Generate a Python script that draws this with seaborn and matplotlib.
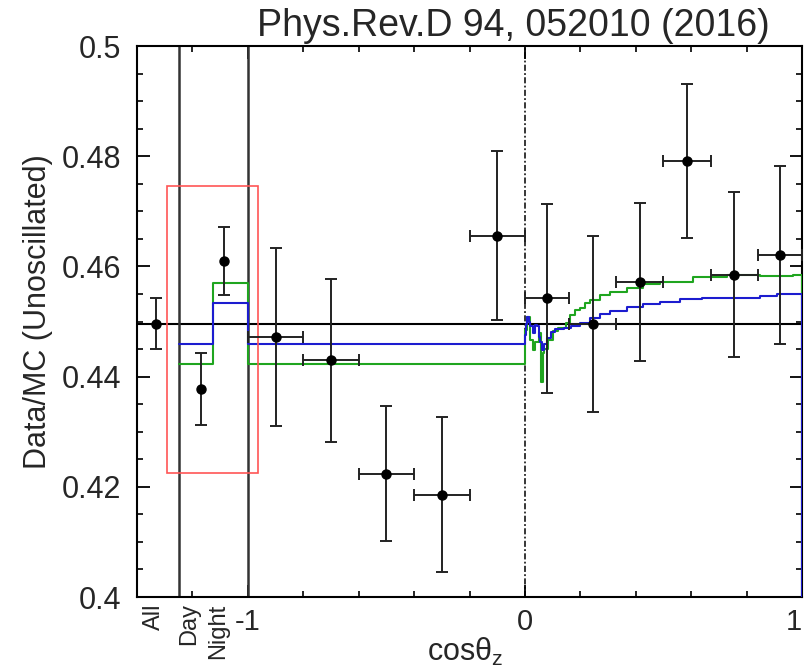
import numpy as np
import matplotlib
matplotlib.use("Agg")
import matplotlib.pyplot as plt
import seaborn as sns
from matplotlib.patches import Rectangle
from matplotlib.ticker import FixedLocator, FixedFormatter

# ---------------- data ----------------
all_x = [-1.33]
all_y = [0.4496]
all_err = [0.0046]

dn_x = [-1.17, -1.085]          # Day, Night
dn_y = [0.4377, 0.4610]
dn_err = [0.0065, 0.0062]

bin_edges = [-1.0, -0.8, -0.6, -0.4, -0.2, 0.0, 0.16, 0.33, 0.50, 0.67, 0.84, 1.0]
zen_y = [0.4472, 0.4430, 0.4224, 0.4186, 0.4656,
         0.4542, 0.4496, 0.4572, 0.4791, 0.4585, 0.4621]
zen_err = [0.0161, 0.0148, 0.0123, 0.0141, 0.0153,
           0.0171, 0.0160, 0.0144, 0.0140, 0.0150, 0.0161]

blue_x = [-1.25, -1.125, -1.0, 0.0, 0.004, 0.008, 0.016, 0.020, 0.030, 0.036, 0.045,
          0.050, 0.056, 0.062, 0.068, 0.080, 0.094, 0.110, 0.140, 0.165, 0.199, 0.235,
          0.271, 0.307, 0.367, 0.427, 0.487, 0.560, 0.640, 0.760, 0.848, 0.908, 1.0]
blue_y = [0.4460, 0.4534, 0.4459, 0.4475, 0.4495, 0.4508, 0.4500, 0.4491, 0.4479, 0.4494, 0.4491,
          0.4472, 0.4463, 0.4448, 0.4460, 0.4470, 0.4481, 0.4486, 0.4489, 0.4492, 0.4497, 0.4506,
          0.4514, 0.4520, 0.4527, 0.4532, 0.4536, 0.4540, 0.4542, 0.4543, 0.4546, 0.4550, 0.39]

green_x = [-1.25, -1.125, -1.0, 0.0, 0.006, 0.018, 0.030, 0.036, 0.052, 0.057, 0.064,
           0.068, 0.084, 0.100, 0.120, 0.150, 0.162, 0.180, 0.199, 0.217, 0.235, 0.271,
           0.307, 0.367, 0.427, 0.487, 0.607, 0.728, 0.848, 0.968, 1.0]
green_y = [0.4423, 0.4570, 0.4423, 0.4485, 0.4509, 0.4466, 0.4448, 0.4463, 0.4479, 0.4391, 0.4443,
           0.4450, 0.4466, 0.4482, 0.4488, 0.4497, 0.4512, 0.4521, 0.4524, 0.4533, 0.4539, 0.4548,
           0.4554, 0.4560, 0.4569, 0.4572, 0.4580, 0.4584, 0.4583, 0.4584, 0.39]

ytick_vals = [0.40, 0.42, 0.44, 0.46, 0.48, 0.50]
ytick_labels = ["0.4", "0.42", "0.44", "0.46", "0.48", "0.5"]
xtick_vals = [-1.0, 0.0, 1.0]
xtick_labels = ["-1", "0", "1"]
group_labels = ["All", "Day", "Night"]
group_label_x = [-1.3375, -1.213, -1.1065]
title_text = "Phys.Rev.D 94, 052010 (2016)"

# ---------------- style ----------------
sns.set_theme(style="ticks")
plt.rcParams["font.family"] = ["Liberation Sans", "DejaVu Sans"]
plt.rcParams["axes.unicode_minus"] = False

fig = plt.figure(figsize=(8.05, 6.69), dpi=100)
ax = fig.add_axes([0.1702, 0.1076, 0.8261, 0.8236])

edges = np.array(bin_edges)
zen_x = (edges[:-1] + edges[1:]) / 2
zen_xerr = (edges[1:] - edges[:-1]) / 2

# reference lines
ax.axhline(all_y[0], color="black", lw=1.5, zorder=2)
ax.axvline(-1.25, color="#333333", lw=1.8, zorder=2)
ax.axvline(-1.0, color="#333333", lw=1.8, zorder=2)
ax.axvline(0.0, color="black", lw=1.1, ls=(0, (4, 1.5, 1.2, 1.5)), zorder=2)

# model curves
sns.lineplot(x=green_x, y=green_y, ax=ax, color="#1fa51f", lw=1.5,
             drawstyle="steps-post", estimator=None, sort=False, zorder=3)
sns.lineplot(x=blue_x, y=blue_y, ax=ax, color="#1c1ccf", lw=1.5,
             drawstyle="steps-post", estimator=None, sort=False, zorder=3)

# highlight box
ax.add_patch(Rectangle((-1.291, 0.42245), 0.328, 0.05215, fill=False,
                       edgecolor="#ff5555", lw=1.2, zorder=4))

# data points
ebkw = dict(fmt="o", color="black", ecolor="#222222", ms=6.5, elinewidth=1.4,
            capsize=4, capthick=1.4, zorder=5)
ax.errorbar(all_x, all_y, yerr=all_err, **ebkw)
ax.errorbar(dn_x, dn_y, yerr=dn_err, **ebkw)
ax.errorbar(zen_x, zen_y, xerr=zen_xerr, yerr=zen_err, **ebkw)

# axes
ax.set_xlim(-1.4, 1.0)
ax.set_ylim(0.4, 0.5)
ax.set_xlabel("")
ax.set_ylabel("")
for s in ax.spines.values():
    s.set_color("black")
    s.set_linewidth(1.5)
    s.set_visible(True)

ax.yaxis.set_major_locator(FixedLocator(ytick_vals))
ax.yaxis.set_major_formatter(FixedFormatter(ytick_labels))
ax.yaxis.set_minor_locator(FixedLocator(list(np.arange(0.4, 0.5001, 0.005))))
ax.xaxis.set_major_locator(FixedLocator(xtick_vals))
ax.xaxis.set_major_formatter(FixedFormatter(xtick_labels))
ax.xaxis.set_minor_locator(FixedLocator([-1.2, -0.8, -0.6, -0.4, -0.2, 0.2, 0.4, 0.6, 0.8]))

ax.tick_params(axis="both", which="both", direction="in", color="black")
ax.tick_params(axis="y", which="major", length=9, width=1.3, left=True, right=True,
               labelsize=22, pad=11.5)
ax.tick_params(axis="y", which="minor", length=4.5, width=1.2, left=True, right=True)
ax.tick_params(axis="x", which="major", length=9, width=1.3, top=True, bottom=True,
               labelsize=21, pad=8)
ax.tick_params(axis="x", which="minor", length=4.5, width=1.2, top=True, bottom=True)

# keep the last tick label ("1") inside the canvas
fig.canvas.draw()
ax.get_xticklabels()[-1].set_horizontalalignment("right")

for xv, lab in zip(group_label_x, group_labels):
    ax.annotate(lab, xy=(xv, 0), xycoords=("data", "axes fraction"),
                xytext=(0, -4.5), textcoords="offset points",
                rotation=90, ha="center", va="top", fontsize=17)

fig.text(465 / 805, 1 - 652 / 669, "cos$\\mathregular{θ_z}$", ha="center", va="center",
         fontsize=22)
fig.text(38 / 805, 1 - 312 / 669, "Data/MC (Unoscillated)", rotation=90,
         ha="center", va="center", fontsize=22)
fig.text(513 / 805, 1 - 26 / 669, title_text, ha="center", va="center", fontsize=27)

fig.savefig("out.png", dpi=100)
